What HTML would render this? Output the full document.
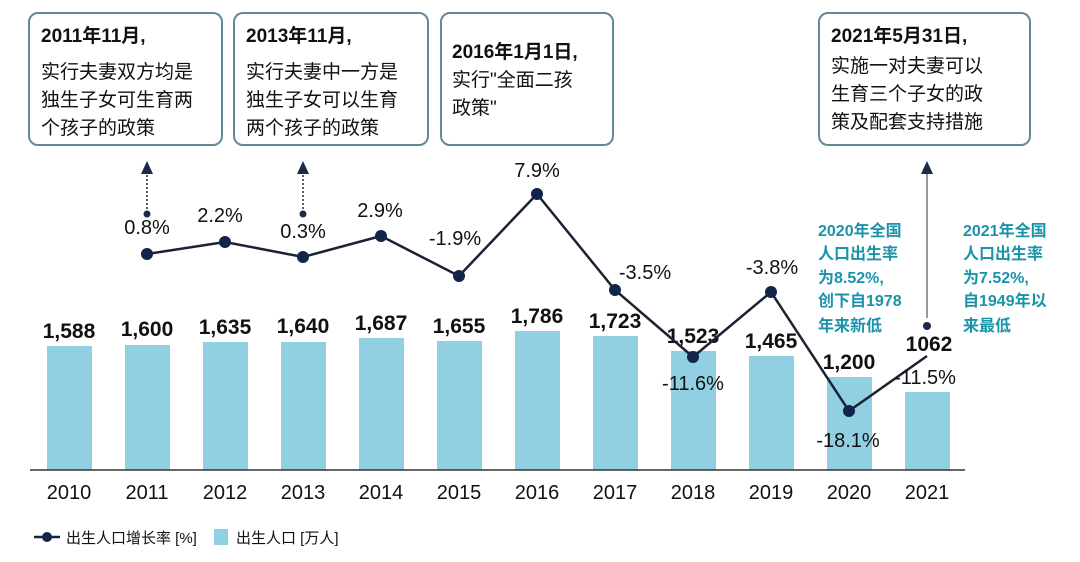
<!DOCTYPE html>
<html><head><meta charset="utf-8"><style>
body{margin:0;background:#fff;}
svg text{font-family:"Liberation Sans","Noto Sans CJK SC",sans-serif;}
</style></head><body>
<svg width="1080" height="557" viewBox="0 0 1080 557" xmlns="http://www.w3.org/2000/svg">
<rect width="1080" height="557" fill="#fff"/>
<g fill="#fff" stroke="#5f8a96" stroke-width="2">
<rect x="29" y="13" width="193" height="132" rx="9"/>
<rect x="234" y="13" width="194" height="132" rx="9"/>
<rect x="441" y="13" width="172" height="132" rx="9"/>
<rect x="819" y="13" width="211" height="132" rx="9"/>
</g>
<g font-size="19" fill="#111">
<text x="41" y="42" font-weight="bold">2011年11月,</text>
<text x="41" y="78">实行夫妻双方均是</text>
<text x="41" y="106">独生子女可生育两</text>
<text x="41" y="134">个孩子的政策</text>
<text x="246" y="42" font-weight="bold">2013年11月,</text>
<text x="246" y="78">实行夫妻中一方是</text>
<text x="246" y="106">独生子女可以生育</text>
<text x="246" y="134">两个孩子的政策</text>
<text x="452" y="58" font-weight="bold">2016年1月1日,</text>
<text x="452" y="86">实行"全面二孩</text>
<text x="452" y="114">政策"</text>
<text x="831" y="42" font-weight="bold">2021年5月31日,</text>
<text x="831" y="72">实施一对夫妻可以</text>
<text x="831" y="100">生育三个子女的政</text>
<text x="831" y="128">策及配套支持措施</text>
</g>
<g fill="#90d0e2">
<rect x="47" y="346" width="45" height="124"/>
<rect x="125" y="345" width="45" height="125"/>
<rect x="203" y="342" width="45" height="128"/>
<rect x="281" y="342" width="45" height="128"/>
<rect x="359" y="338" width="45" height="132"/>
<rect x="437" y="341" width="45" height="129"/>
<rect x="515" y="331" width="45" height="139"/>
<rect x="593" y="336" width="45" height="134"/>
<rect x="671" y="351" width="45" height="119"/>
<rect x="749" y="356" width="45" height="114"/>
<rect x="827" y="377" width="45" height="93"/>
<rect x="905" y="392" width="45" height="78"/>
</g>
<line x1="30" y1="470" x2="965" y2="470" stroke="#333" stroke-width="1.5"/>
<g font-size="21" font-weight="bold" fill="#111" text-anchor="middle">
<text x="69" y="338">1,588</text>
<text x="147" y="336">1,600</text>
<text x="225" y="334">1,635</text>
<text x="303" y="333">1,640</text>
<text x="381" y="330">1,687</text>
<text x="459" y="333">1,655</text>
<text x="537" y="323">1,786</text>
<text x="615" y="328">1,723</text>
<text x="693" y="343">1,523</text>
<text x="771" y="348">1,465</text>
<text x="849" y="369">1,200</text>
<text x="929" y="351">1062</text>
</g>
<g font-size="20" fill="#111" text-anchor="middle">
<text x="69" y="499">2010</text><text x="147" y="499">2011</text><text x="225" y="499">2012</text><text x="303" y="499">2013</text>
<text x="381" y="499">2014</text><text x="459" y="499">2015</text><text x="537" y="499">2016</text><text x="615" y="499">2017</text>
<text x="693" y="499">2018</text><text x="771" y="499">2019</text><text x="849" y="499">2020</text><text x="927" y="499">2021</text>
</g>
<g stroke="#1a2a4a" stroke-width="1.5" stroke-dasharray="2,2">
<line x1="147" y1="213" x2="147" y2="172"/>
<line x1="303" y1="213" x2="303" y2="172"/>
</g>
<g fill="#1a2a4a">
<polygon points="141,174 153,174 147,161"/>
<polygon points="297,174 309,174 303,161"/>
<polygon points="921,174 933,174 927,161"/>
<circle cx="147" cy="214" r="3.5"/>
<circle cx="303" cy="214" r="3.5"/>
<circle cx="927" cy="326" r="4"/>
</g>
<line x1="927" y1="174" x2="927" y2="318" stroke="#777" stroke-width="1.5"/>
<polyline fill="none" stroke="#1a2233" stroke-width="2.5" points="147,254 225,242 303,257 381,236 459,276 537,194 615,290 693,357 771,292 849,411 927,356"/>
<g fill="#13244a">
<circle cx="147" cy="254" r="6"/><circle cx="225" cy="242" r="6"/><circle cx="303" cy="257" r="6"/>
<circle cx="381" cy="236" r="6"/><circle cx="459" cy="276" r="6"/><circle cx="537" cy="194" r="6"/>
<circle cx="615" cy="290" r="6"/><circle cx="693" cy="357" r="6"/><circle cx="771" cy="292" r="6"/>
<circle cx="849" cy="411" r="6"/>
</g>
<g font-size="20" fill="#111" text-anchor="middle">
<text x="147" y="234">0.8%</text>
<text x="220" y="222">2.2%</text>
<text x="303" y="238">0.3%</text>
<text x="380" y="217">2.9%</text>
<text x="455" y="245">-1.9%</text>
<text x="537" y="177">7.9%</text>
<text x="645" y="279">-3.5%</text>
<text x="693" y="390">-11.6%</text>
<text x="772" y="274">-3.8%</text>
<text x="848" y="447">-18.1%</text>
<text x="925" y="384">-11.5%</text>
</g>
<g font-size="16" font-weight="bold" fill="#1a93a8">
<text x="818" y="236">2020年全国</text>
<text x="818" y="259">人口出生率</text>
<text x="818" y="283">为8.52%,</text>
<text x="818" y="306">创下自1978</text>
<text x="818" y="331">年来新低</text>
<text x="963" y="236">2021年全国</text>
<text x="963" y="259">人口出生率</text>
<text x="963" y="283">为7.52%,</text>
<text x="963" y="306">自1949年以</text>
<text x="963" y="331">来最低</text>
</g>
<line x1="34" y1="537" x2="60" y2="537" stroke="#13244a" stroke-width="2.5"/>
<circle cx="47" cy="537" r="5" fill="#13244a"/>
<text x="66" y="543" font-size="15" fill="#111">出生人口增长率 [%]</text>
<rect x="214" y="529" width="14" height="16" fill="#90d0e2"/>
<text x="236" y="543" font-size="15" fill="#111">出生人口 [万人]</text>
</svg>
</body></html>
